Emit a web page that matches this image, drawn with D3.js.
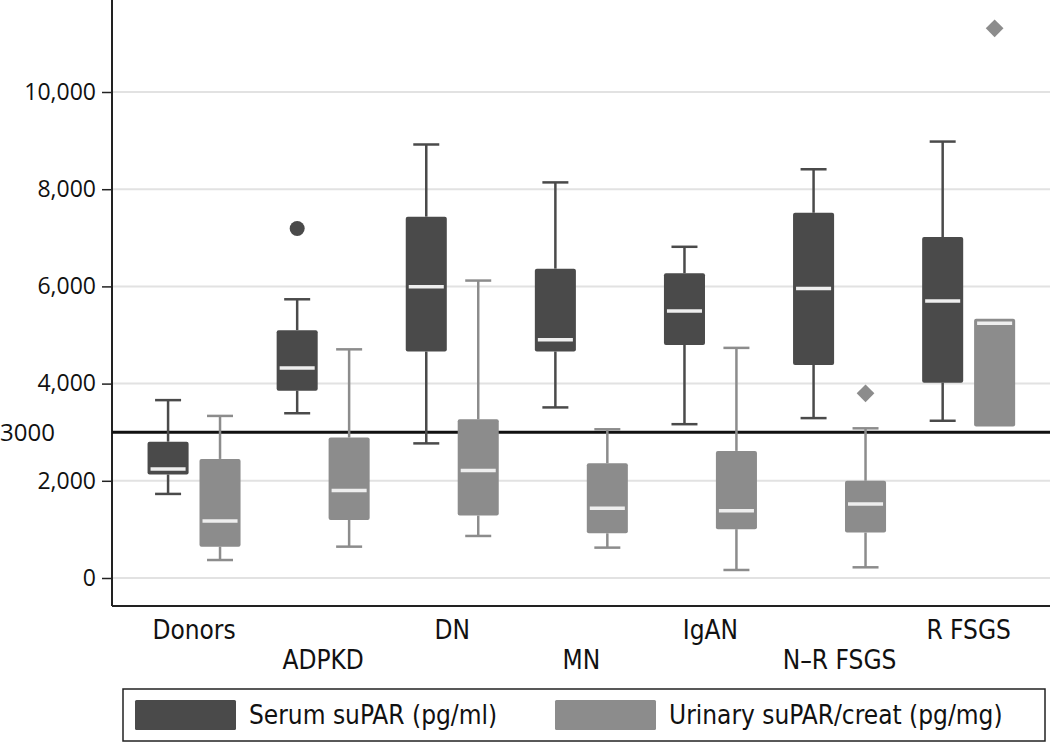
<!DOCTYPE html>
<html>
<head>
<meta charset="utf-8">
<script src="https://cdn.jsdelivr.net/npm/d3@7"></script>
<style>
  html, body { margin: 0; padding: 0; background: #ffffff; }
  svg { display: block; }
  text { font-family: "Open Sans", "Noto Sans", sans-serif; fill: #111; }
  .narrow { font-family: "Liberation Sans Narrow", "DejaVu Sans Condensed", "Open Sans", sans-serif; }
</style>
</head>
<body>
<svg id="chart" width="1050" height="743"></svg>
<script>
// ---- data ----
const categories = ["Donors", "ADPKD", "DN", "MN", "IgAN", "N\u2013R FSGS", "R FSGS"];
const seriesNames = ["Serum suPAR (pg/ml)", "Urinary suPAR/creat (pg/mg)"];
// [lower whisker, Q1, median, Q3, upper whisker]
const serumStats = [
  [1730, 2130, 2245, 2805, 3660],
  [3390, 3855, 4320, 5100, 5735],
  [2770, 4660, 5995, 7435, 8920],
  [3510, 4660, 4900, 6365, 8140],
  [3165, 4795, 5495, 6270, 6815],
  [3290, 4385, 5955, 7515, 8410],
  [3235, 4020, 5700, 7015, 8980]
];
const urinaryStats = [
  [370, 645, 1175, 2450, 3335],
  [645, 1195, 1800, 2890, 4705],
  [865, 1285, 2210, 3265, 6120],
  [625, 920, 1435, 2360, 3060],
  [165, 1005, 1385, 2615, 4735],
  [220, 935, 1525, 2000, 3080],
  [3115, 3115, 5240, 5335, 5335]
];
// outliers: [category, value]
const serumOutliers = [["ADPKD", 7190]];
const urinaryOutliers = [["N\u2013R FSGS", 3800], ["R FSGS", 11310]];
const yTicks = [0, 2000, 4000, 6000, 8000, 10000];
const threshold = 3000;

// ---- layout ----
const svg = d3.select("#chart");
const axisX = 112, axisBottom = 606, plotRight = 1050;
const colors = ["#4a4a4a", "#8c8c8c"];

const y = d3.scaleLinear().domain([0, 10000]).range([578, 92]);
const x = d3.scaleBand().domain(categories).range([129.5, 1033.2]).padding(0);
const sub = d3.scaleBand().domain(seriesNames).range([-46.5, 46.5]).paddingInner(0.21);
const bw = sub.bandwidth();

// gridlines
svg.append("g").selectAll("line").data(yTicks).join("line")
  .attr("x1", axisX).attr("x2", plotRight)
  .attr("y1", d => y(d)).attr("y2", d => y(d))
  .attr("stroke", "#e2e2e2").attr("stroke-width", 2);

// y axis
const yAxis = d3.axisLeft(y).tickValues(yTicks).tickFormat(d3.format(",")).tickSize(10).tickPadding(6);
const gy = svg.append("g").attr("transform", `translate(${axisX},0)`).call(yAxis);
gy.select(".domain").remove();
gy.selectAll(".tick line").attr("stroke", "#222").attr("stroke-width", 1.5);
gy.selectAll(".tick text").attr("font-size", 23).attr("fill", "#111")
  .style("font-family", '"Open Sans", "Noto Sans", sans-serif');

// axis lines
svg.append("line").attr("x1", axisX).attr("x2", axisX).attr("y1", 0).attr("y2", axisBottom)
  .attr("stroke", "#222").attr("stroke-width", 2);
svg.append("line").attr("x1", axisX).attr("x2", plotRight).attr("y1", axisBottom).attr("y2", axisBottom)
  .attr("stroke", "#222").attr("stroke-width", 2);

// category labels (staggered)
svg.append("g").selectAll("text").data(categories).join("text")
  .attr("class", "narrow")
  .attr("x", d => x(d) + x.bandwidth() / 2)
  .attr("y", (d, i) => i % 2 === 0 ? 639 : 669)
  .attr("text-anchor", "middle")
  .attr("font-size", 26)
  .text(d => d);

// boxes
function drawBoxes(stats, si) {
  const name = seriesNames[si];
  const col = colors[si];
  const g = svg.append("g");
  stats.forEach((s, i) => {
    const cx = x(categories[i]) + x.bandwidth() / 2 + sub(name) + bw / 2;
    const [lo, q1, med, q3, hi] = s;
    if (hi > q3) {
      g.append("line").attr("x1", cx).attr("x2", cx).attr("y1", y(q3)).attr("y2", y(hi))
        .attr("stroke", col).attr("stroke-width", 2.5);
      g.append("line").attr("x1", cx - 13).attr("x2", cx + 13).attr("y1", y(hi)).attr("y2", y(hi))
        .attr("stroke", col).attr("stroke-width", 2.5);
    }
    if (lo < q1) {
      g.append("line").attr("x1", cx).attr("x2", cx).attr("y1", y(q1)).attr("y2", y(lo))
        .attr("stroke", col).attr("stroke-width", 2.5);
      g.append("line").attr("x1", cx - 13).attr("x2", cx + 13).attr("y1", y(lo)).attr("y2", y(lo))
        .attr("stroke", col).attr("stroke-width", 2.5);
    }
    g.append("rect").attr("x", cx - bw / 2).attr("width", bw)
      .attr("y", y(q3)).attr("height", y(q1) - y(q3))
      .attr("rx", 2).attr("fill", col);
    g.append("line").attr("x1", cx - bw / 2 + 3).attr("x2", cx + bw / 2 - 3)
      .attr("y1", y(med)).attr("y2", y(med))
      .attr("stroke", "#eeeeee").attr("stroke-width", 3.5);
  });
}

// threshold line (drawn under boxes)
svg.append("line").attr("x1", axisX).attr("x2", plotRight)
  .attr("y1", y(threshold)).attr("y2", y(threshold))
  .attr("stroke", "#111").attr("stroke-width", 3);
svg.append("text").attr("x", 0).attr("y", y(threshold)).attr("dy", "0.35em")
  .attr("font-size", 24).text(String(threshold));

drawBoxes(serumStats, 0);
drawBoxes(urinaryStats, 1);

// outliers
svg.append("g").selectAll("circle").data(serumOutliers).join("circle")
  .attr("cx", d => x(d[0]) + x.bandwidth() / 2 + sub(seriesNames[0]) + bw / 2)
  .attr("cy", d => y(d[1])).attr("r", 7.5).attr("fill", colors[0]);
const diamond = d3.symbol().type(d3.symbolDiamond2).size(200);
svg.append("g").selectAll("path").data(urinaryOutliers).join("path")
  .attr("d", diamond)
  .attr("transform", d => `translate(${x(d[0]) + x.bandwidth() / 2 + sub(seriesNames[1]) + bw / 2},${y(d[1])})`)
  .attr("fill", colors[1]);

// legend
const lg = svg.append("g");
lg.append("rect").attr("x", 123).attr("y", 689).attr("width", 922).attr("height", 52)
  .attr("fill", "none").attr("stroke", "#222").attr("stroke-width", 1.5);
const legendX = [135, 555];
seriesNames.forEach((n, i) => {
  lg.append("rect").attr("x", legendX[i]).attr("y", 700).attr("width", 101).attr("height", 30)
    .attr("rx", 1.5).attr("fill", colors[i]);
  lg.append("text").attr("class", "narrow").attr("x", legendX[i] + 114).attr("y", 724)
    .attr("font-size", 26).text(n);
});
</script>
</body>
</html>
